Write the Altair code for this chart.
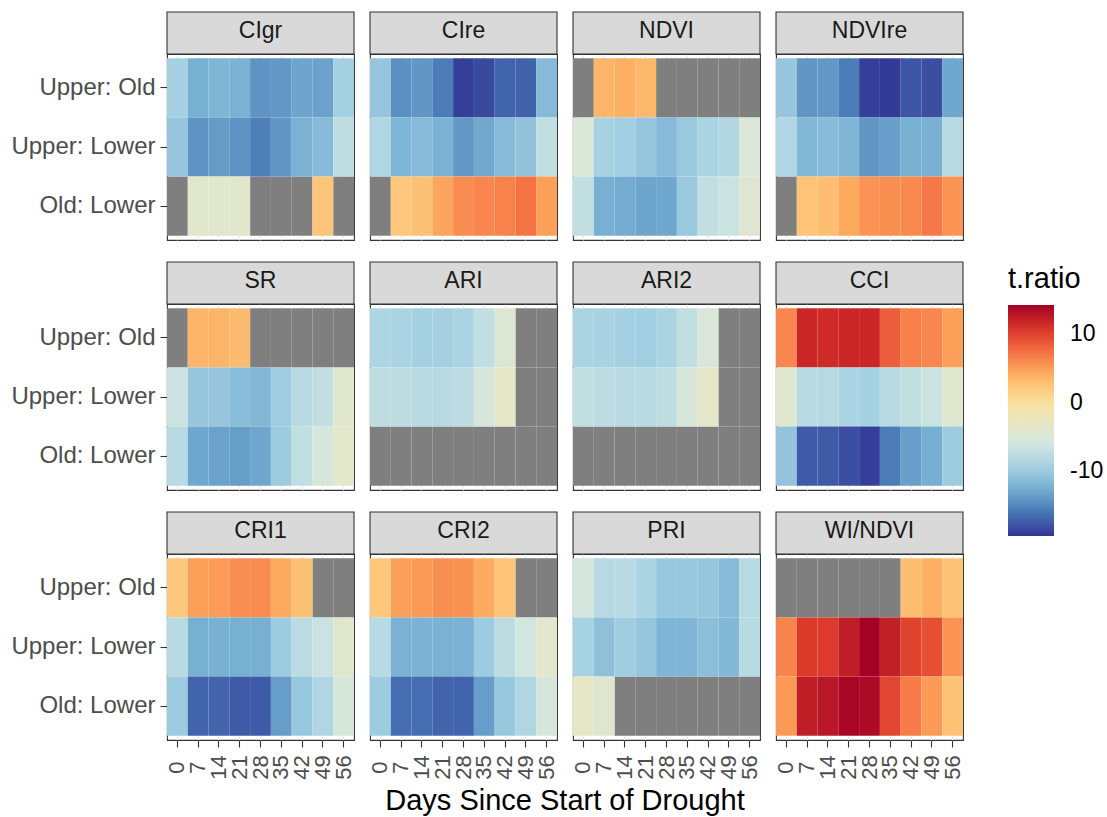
import altair as alt
import pandas as pd

days = [0, 7, 14, 21, 28, 35, 42, 49, 56]
contrasts = ["Upper: Old", "Upper: Lower", "Old: Lower"]
indices = ["CIgr", "CIre", "NDVI", "NDVIre", "SR", "ARI", "ARI2", "CCI",
           "CRI1", "CRI2", "PRI", "WI/NDVI"]
N = None

# t.ratio values per index: rows = Upper: Old, Upper: Lower, Old: Lower
cigr = [[-9.5, -12.5, -12.0, -12.3, -14.3, -14.0, -13.2, -13.4, -9.5],
        [-10.5, -14.2, -13.8, -14.3, -15.5, -14.1, -12.3, -11.5, -7.5],
        [N, -4.0, -4.0, -4.0, N, N, N, 2.5, N]]
cire = [[-10.5, -14.5, -14.1, -15.7, -19.0, -18.5, -17.0, -17.1, -11.5],
        [-8.7, -12.0, -11.5, -12.3, -14.0, -13.0, -11.5, -10.7, -7.3],
        [N, 2.3, 2.8, 4.6, 6.0, 6.3, 6.5, 7.3, 5.0]]
ndvi = [[N, 3.6, 4.1, 3.4, N, N, N, N, N],
        [-5.0, -9.3, -9.7, -10.5, -11.5, -10.2, -9.0, -8.5, -5.0],
        [-7.3, -12.5, -12.8, -13.2, -13.1, -10.2, -7.3, -6.5, -4.5]]
ndvire = [[-10.4, -14.1, -14.0, -15.7, -19.0, -19.3, -17.8, -18.2, -13.1],
          [-8.7, -11.8, -11.4, -12.0, -14.1, -13.6, -12.4, -12.4, -8.2],
          [N, 2.6, 3.0, 4.4, 5.6, 5.9, 6.1, 7.0, 5.6]]
sr = [[N, 3.6, 3.7, 3.2, N, N, N, N, N],
      [-6.5, -10.4, -10.5, -11.3, -11.8, -9.8, -8.0, -7.3, -4.0],
      [-8.0, -13.1, -13.4, -13.7, -13.1, -10.0, -7.3, -5.3, -3.8]]
ari = [[-8.8, -9.1, -9.5, -9.5, -9.0, -7.3, -4.8, N, N],
       [-7.5, -7.7, -8.0, -8.1, -7.7, -5.3, -3.3, N, N],
       [N, N, N, N, N, N, N, N, N]]
ari2 = [[-9.0, -9.2, -9.5, -9.7, -9.0, -7.3, -5.0, N, N],
        [-7.3, -7.7, -8.0, -8.0, -7.5, -5.2, -3.5, N, N],
        [N, N, N, N, N, N, N, N, N]]
cci = [[6.3, 11.8, 11.5, 11.8, 11.8, 8.5, 6.6, 6.3, 5.0],
       [-4.2, -8.0, -8.2, -8.9, -9.4, -8.2, -7.3, -6.5, -4.2],
       [-10.6, -17.5, -17.5, -18.2, -19.0, -15.7, -13.6, -12.6, -10.0]]
cri1 = [[2.3, 5.0, 5.2, 5.9, 6.0, 4.3, 2.8, N, N],
        [-8.0, -12.5, -12.4, -12.5, -12.5, -10.0, -7.8, -6.6, -4.0],
        [-10.0, -17.0, -17.0, -17.5, -17.5, -13.7, -10.3, -8.7, -5.3]]
cri2 = [[2.3, 5.0, 5.3, 5.9, 5.7, 4.3, 2.6, N, N],
        [-8.0, -12.3, -12.2, -12.3, -12.3, -10.0, -7.7, -6.0, -3.8],
        [-10.0, -16.5, -16.5, -17.0, -17.0, -13.7, -10.3, -8.7, -5.3]]
pri = [[-5.7, -8.1, -8.0, -8.9, -10.3, -10.3, -10.5, -11.4, -8.2],
       [-9.3, -11.0, -9.8, -10.5, -12.0, -12.0, -11.2, -11.7, -8.0],
       [-3.3, -4.5, N, N, N, N, N, N, N]]
wi_ndvi = [[N, N, N, N, N, N, 3.0, 4.0, 2.7],
           [6.4, 10.5, 10.4, 12.5, 14.3, 12.3, 10.0, 9.3, 5.6],
           [5.3, 12.5, 13.0, 14.0, 13.8, 9.8, 6.8, 5.2, 2.7]]

all_values = [cigr, cire, ndvi, ndvire, sr, ari, ari2, cci, cri1, cri2, pri, wi_ndvi]

color_stops = [-19.5, -16.12, -12.74, -9.36, -5.98, -2.6, 0.78, 4.16, 7.54, 10.92, 14.3]
color_range = ["#313695", "#4575b4", "#74add1", "#a6d2e3", "#d2e6e0", "#ebe7c0",
               "#fbdc92", "#fdae61", "#f46d43", "#d73027", "#a50026"]
legend_values = [-10, 0, 10]

records = []
for name, vals in zip(indices, all_values):
    for contrast, series in zip(contrasts, vals):
        for d, v in zip(days, series):
            records.append({"index": name, "contrast": contrast, "day": d, "t": v})
df = pd.DataFrame(records)

FONT = "Liberation Sans"
W, H = 187, 186
STRIP = 42
NA_COLOR = "#7f7f7f"

color_scale = alt.Scale(domain=color_stops, range=color_range, interpolate="lab")
color_enc = alt.Color(
    "t:Q",
    scale=color_scale,
    legend=alt.Legend(
        title="t.ratio", orient="none", legendX=841, legendY=211,
        values=legend_values, gradientLength=231, gradientThickness=46,
        gradientStrokeWidth=0, titleFontSize=29, titleFont=FONT,
        titleFontWeight="normal", titleColor="#000000", titlePadding=11,
        labelFontSize=23, labelFont=FONT, labelColor="#000000", labelOffset=16,
        labelExpr="'' + datum.value", direction="vertical",
    ),
)

panels = []
for i, name in enumerate(indices):
    r, c = divmod(i, 4)
    sub = df[df["index"] == name]
    if r == 2:
        xaxis = alt.Axis(title=None, labelAngle=270, labelAlign="center",
                         labelBaseline="middle", labelPadding=20, tickSize=7,
                         tickColor="#333333", tickWidth=1.1, labelFontSize=22,
                         labelFont=FONT, labelColor="#4d4d4d", grid=True,
                         gridColor="#ebebeb", domain=False, labelOverlap=False,
                         bandPosition=0.5, zindex=0)
    else:
        xaxis = alt.Axis(title=None, labels=False, ticks=False, domain=False,
                         grid=True, gridColor="#ebebeb", bandPosition=0.5, zindex=0)
    if c == 0:
        yaxis = alt.Axis(title=None, labelFontSize=24, labelFont=FONT,
                         labelColor="#4d4d4d", tickSize=7, tickColor="#333333",
                         tickWidth=1.1, labelPadding=5, domain=False, grid=False,
                         zindex=0)
    else:
        yaxis = None
    xenc = alt.X("day:O", scale=alt.Scale(domain=days, paddingInner=0, paddingOuter=0),
                 axis=xaxis)
    yenc = alt.Y("contrast:N", scale=alt.Scale(domain=contrasts, paddingInner=0,
                                               paddingOuter=0.07), axis=yaxis)
    base = alt.Chart(sub)
    na_layer = base.mark_rect(color=NA_COLOR).encode(
        x=xenc, y=yenc).transform_filter("!isValid(datum.t) || !isFinite(datum.t)")
    val_layer = base.mark_rect().encode(
        x=xenc, y=yenc, color=color_enc
    ).transform_filter("isValid(datum.t) && isFinite(datum.t)")
    strip_df = pd.DataFrame({"label": [name]})
    strip_rect = alt.Chart(strip_df).mark_rect(
        fill="#d9d9d9", stroke="#333333", strokeWidth=1.1
    ).encode(x=alt.value(0), x2=alt.value(W), y=alt.value(-STRIP), y2=alt.value(0))
    strip_text = alt.Chart(strip_df).mark_text(
        font=FONT, fontSize=23, color="#1a1a1a", baseline="middle", align="center"
    ).encode(x=alt.value(W / 2), y=alt.value(-STRIP / 2 - 2), text="label:N")
    layers = [na_layer, val_layer, strip_rect, strip_text]
    if r == 2 and c == 1:
        title_df = pd.DataFrame({"label": ["Days Since Start of Drought"]})
        layers.append(alt.Chart(title_df).mark_text(
            font=FONT, fontSize=29, color="#000000", baseline="middle", align="center"
        ).encode(x=alt.value(195), y=alt.value(247), text="label:N"))
    panel = alt.layer(*layers).properties(width=W, height=H)
    panels.append(panel)

chart = alt.concat(
    *panels, columns=4, spacing={"row": 64, "column": 16}, bounds="flush"
).resolve_scale(color="shared").properties(
    padding={"left": 10, "top": 10, "right": 0, "bottom": 0},
    background="white",
).configure_view(stroke="#333333", strokeWidth=1.1)

chart.save("out.html", embed_options={"renderer": "svg", "actions": False})
